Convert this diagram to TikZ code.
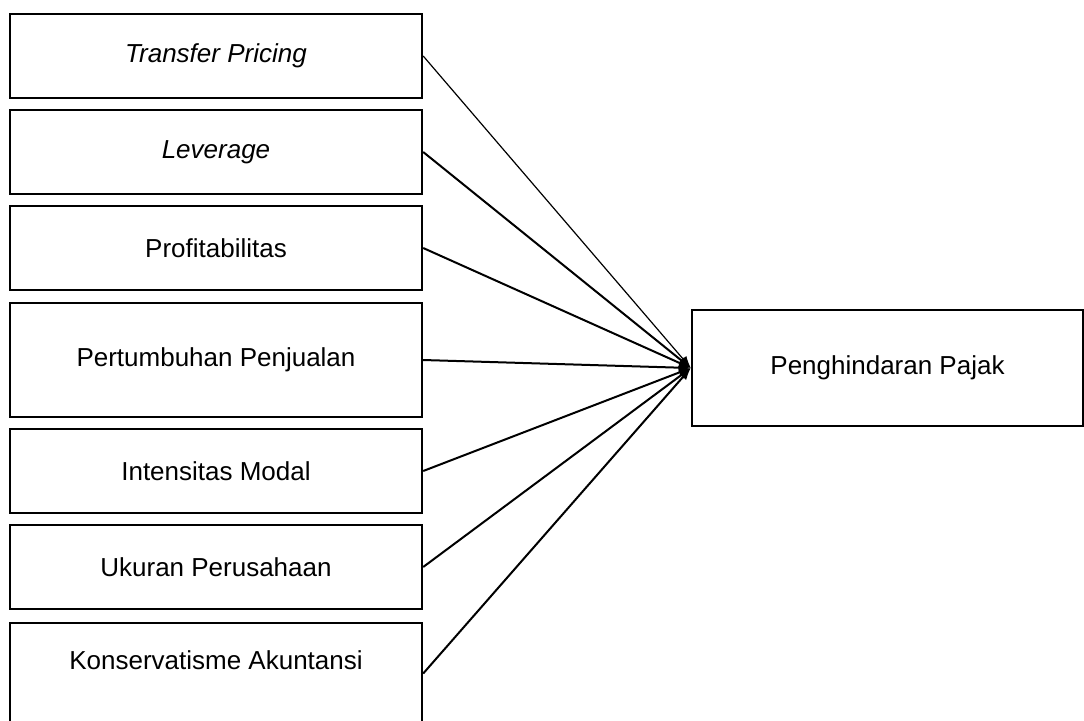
\documentclass[tikz,border=0pt]{standalone}
\usepackage{fontspec}
\setmainfont{Liberation Sans}
\usepackage{tikz}
\usetikzlibrary{arrows.meta}

\begin{document}
\begin{tikzpicture}[x=0.5pt,y=-0.5pt,->,>={Latex[length=6pt,width=4.5pt]},node distance=48pt,
	main node/.style={rectangle, draw, line width=1.2pt, minimum width=206pt, minimum height=42pt, font=\fontsize{13}{15}\selectfont},
	var node/.style={main node, -}]
	\useasboundingbox (0,0) rectangle (1084,720);
	% Nodes
	\node[var node] (1) at (216,56) {\itshape Transfer Pricing};
	\node[var node] (2) [below of=1] {\itshape Leverage};
	\node[var node] (3) [below of=2] {Profitabilitas};
	\node[var node, minimum height=57pt] (4) [below of=3, yshift=-8pt] {Pertumbuhan Penjualan};
	\node[var node] (5) [below of=4, yshift=-7.5pt] {Intensitas Modal};
	\node[var node] (6) [below of=5] {Ukuran Perusahaan};
	\node[var node, text height=23pt, text depth=27.5pt, inner ysep=0pt] (7) [below of=6, yshift=-5.25pt] {Konservatisme Akuntansi};
	
	\node[var node, minimum width=195.5pt, minimum height=58pt] (8) at (887.5,368) {Penghindaran Pajak};
	
	\path[line width=1pt]
	(1.east) edge[line width=0.6pt] (8.west)
	(2.east) edge (8.west)
	(3.east) edge (8.west)
	(4.east) edge (8.west)
	(5.east) edge (8.west)
	(6.east) edge (8.west)
	(7.east) edge (8.west);
	
\end{tikzpicture}
\end{document}
